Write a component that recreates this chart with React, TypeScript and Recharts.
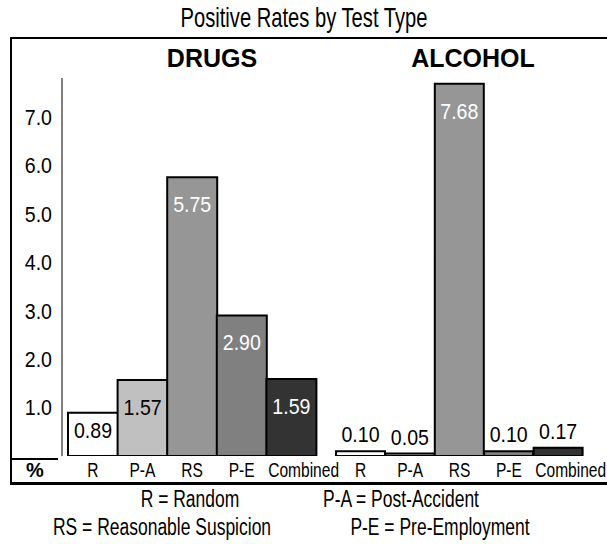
import * as React from 'react'
import { BarChart, Bar, XAxis, YAxis, Cell, LabelList } from 'recharts'

const categories = ['R', 'P-A', 'RS', 'P-E', 'Combined']
const drugRates = [0.89, 1.57, 5.75, 2.9, 1.59]
const alcoholRates = [0.1, 0.05, 7.68, 0.1, 0.17]
const yTicks = [1, 2, 3, 4, 5, 6, 7]
const legendItems = [
  'R = Random',
  'P-A = Post-Accident',
  'RS = Reasonable Suspicion',
  'P-E = Pre-Employment',
]

const BAR_FILLS = ['#ffffff', '#c0c0c0', '#969696', '#808080', '#333333']
const LABEL_COLORS = ['#000000', '#000000', '#ffffff', '#ffffff', '#ffffff']
// no narrow face installed, so Liberation Sans is squeezed horizontally instead
const FONT = "'Liberation Sans', Arial, sans-serif"
const NUM_SX = 0.89
const Y_DOMAIN: [number, number] = [0, 7.8]

function toRows(values: number[]) {
  return categories.map((cat, i) => ({ cat, value: values[i] }))
}

function NarrowText({ x, y, sx, size, anchor = 'middle', fill = '#000', children }: any) {
  return (
    <text
      transform={`translate(${x},${y}) scale(${sx},1)`}
      textAnchor={anchor}
      dominantBaseline="central"
      fill={fill}
      fontFamily={FONT}
      fontSize={size}
    >
      {children}
    </text>
  )
}

function ValueLabel(props: any) {
  const { x, y, width, height, value, index } = props
  const cx = Number(x) + Number(width) / 2
  const h = Number(height)
  const top = Number(y)
  let cy: number
  let color = LABEL_COLORS[index] ?? '#000'
  if (h > 30) {
    cy = top + Math.min(27, h * 0.4)
  } else {
    cy = top - 17
    color = '#000'
  }
  return (
    <NarrowText x={cx} y={cy} sx={NUM_SX} size={22} fill={color}>
      {Number(value).toFixed(2)}
    </NarrowText>
  )
}

function CategoryTick(props: any) {
  const { x, y, payload, index } = props
  const last = index === categories.length - 1
  return (
    <NarrowText x={last ? x - 23 : x} y={y + 14} sx={0.74} size={21} anchor={last ? 'start' : 'middle'}>
      {payload.value}
    </NarrowText>
  )
}

function ValueTick(props: any) {
  const { x, y, payload } = props
  return (
    <NarrowText x={x} y={y} sx={NUM_SX} size={22} anchor="end">
      {Number(payload.value).toFixed(1)}
    </NarrowText>
  )
}

function Group({ values, showAxis }: { values: number[]; showAxis: boolean }) {
  return (
    <BarChart
      width={showAxis ? 320 : 287}
      height={544}
      data={toRows(values)}
      margin={showAxis ? { top: 78, right: 4, bottom: 58, left: 10 } : { top: 78, right: 24, bottom: 58, left: 16 }}
      barCategoryGap={0}
    >
      <XAxis
        dataKey="cat"
        axisLine={false}
        tickLine={false}
        tickSize={0}
        tickMargin={0}
        height={30}
        interval={0}
        padding={showAxis ? { left: 6, right: 0 } : { left: 0, right: 0 }}
        tick={<CategoryTick />}
      />
      <YAxis
        hide={!showAxis}
        width={52}
        domain={Y_DOMAIN}
        ticks={yTicks}
        allowDataOverflow
        axisLine={{ stroke: '#000', strokeWidth: 1 }}
        tickLine={false}
        tickSize={0}
        tickMargin={10}
        tick={<ValueTick />}
      />
      <Bar dataKey="value" isAnimationActive={false}>
        {values.map((_, i) => (
          <Cell key={`cell-${i}`} fill={BAR_FILLS[i]} stroke="#000" strokeWidth={2} />
        ))}
        <LabelList dataKey="value" content={<ValueLabel />} />
      </Bar>
    </BarChart>
  )
}

const textAt = (x: number, y: number, size: number, sx: number, extra?: React.CSSProperties): React.CSSProperties => ({
  position: 'absolute',
  left: x,
  top: y,
  transform: `translate(-50%, -50%) scaleX(${sx})`,
  whiteSpace: 'nowrap',
  lineHeight: 1,
  fontFamily: FONT,
  fontSize: size,
  color: '#000',
  ...extra,
})

export default function App() {
  return (
    <div
      style={{
        position: 'absolute',
        left: 0,
        top: 0,
        width: 607,
        height: 544,
        background: '#fff',
        overflow: 'hidden',
      }}
    >
      <style>{'.recharts-surface { overflow: visible; }'}</style>
      <div style={textAt(304, 18, 28, 0.72)}>Positive Rates by Test Type</div>

      {/* frame, open to the right */}
      <div
        style={{
          position: 'absolute',
          left: 10,
          top: 37,
          width: 620,
          height: 443,
          borderTop: '2px solid #000',
          borderLeft: '2px solid #000',
          borderBottom: '3px solid #000',
        }}
      />
      <div style={{ position: 'absolute', left: 11, top: 458, width: 47, height: 2, background: '#000' }} />

      <div style={textAt(212, 58, 25, 1, { fontWeight: 700 })}>DRUGS</div>
      <div style={textAt(473, 58, 25, 1, { fontWeight: 700 })}>ALCOHOL</div>

      <div style={{ position: 'absolute', left: 0, top: 0 }}>
        <Group values={drugRates} showAxis />
      </div>
      <div style={{ position: 'absolute', left: 320, top: 0 }}>
        <Group values={alcoholRates} showAxis={false} />
      </div>

      <div style={textAt(35, 470, 20, 1, { fontWeight: 700 })}>%</div>

      <div style={textAt(190, 499, 23, 0.76)}>{legendItems[0]}</div>
      <div style={textAt(401, 499, 23, 0.76)}>{legendItems[1]}</div>
      <div style={textAt(162, 527, 23, 0.76)}>{legendItems[2]}</div>
      <div style={textAt(440, 527, 23, 0.76)}>{legendItems[3]}</div>
    </div>
  )
}
